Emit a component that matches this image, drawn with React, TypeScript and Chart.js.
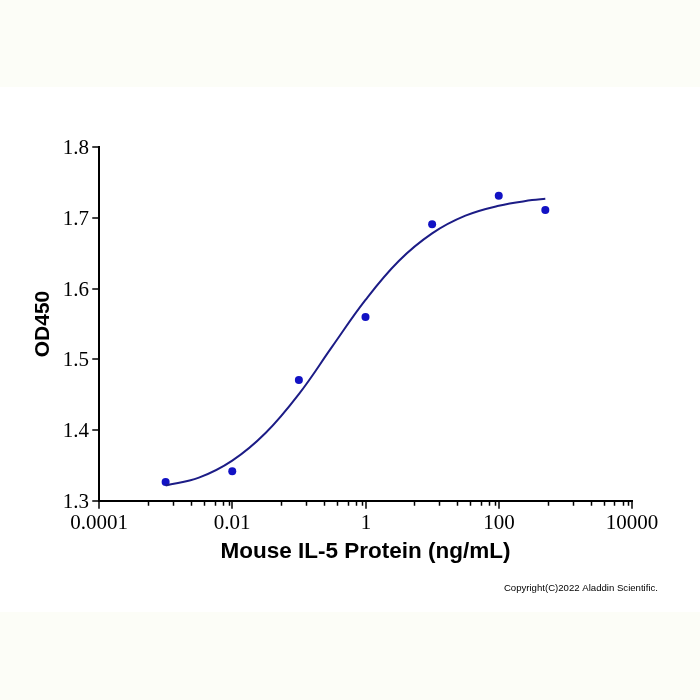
import React, { useEffect, useRef } from "react";
import { Chart, registerables } from "chart.js";

Chart.register(...registerables);

// Measured OD450 readings for each concentration (ng/mL)
const conc = [0.001, 0.01, 0.1, 1, 10, 100, 500];
const od450 = [1.327, 1.342, 1.471, 1.56, 1.691, 1.731, 1.711];

// Fitted curve, sampled every half decade
const fitConc = [0.001, 0.00316, 0.01, 0.0316, 0.1, 0.316, 1, 3.16, 10, 31.6, 100, 316, 500];
const fitOd = [1.322, 1.333, 1.357, 1.396, 1.451, 1.518, 1.584, 1.639, 1.678, 1.703, 1.717, 1.725, 1.727];

// Axis ticks
const yTicks = [1.3, 1.4, 1.5, 1.6, 1.7, 1.8];
const xMajor = [0.0001, 0.01, 1, 100, 10000];
const xMajorLabels = ["0.0001", "0.01", "1", "100", "10000"];
const xMinorFactors = [5.4, 12.8, 24, 37.6, 54.6, 72.4, 88.4];

const xTitle = "Mouse IL-5 Protein (ng/mL)";
const yTitle = "OD450";
const copyright = "Copyright(C)2022 Aladdin Scientific.";

const axesPlugin = {
  id: "plotAxes",
  afterDraw(chart: any) {
    const { ctx, chartArea } = chart;
    const xs = chart.scales.x;
    const ys = chart.scales.y;
    const left = chartArea.left;
    const right = chartArea.right;
    const top = chartArea.top;
    const bottom = chartArea.bottom;
    ctx.save();
    ctx.strokeStyle = "#000";
    ctx.fillStyle = "#000";
    ctx.lineWidth = 2;
    ctx.lineCap = "square";

    // axis lines
    ctx.beginPath();
    ctx.moveTo(left, top);
    ctx.lineTo(left, bottom);
    ctx.lineTo(right, bottom);
    ctx.stroke();

    // y ticks and labels
    ctx.font = "21px 'Liberation Serif', 'Times New Roman', serif";
    ctx.textAlign = "right";
    ctx.textBaseline = "middle";
    ctx.lineWidth = 1.5;
    yTicks.forEach((v) => {
      const py = Math.round(ys.getPixelForValue(v));
      ctx.beginPath();
      ctx.moveTo(left - 6, py);
      ctx.lineTo(left, py);
      ctx.stroke();
      ctx.fillText(v.toFixed(1), left - 10, py + 1);
    });

    // x minor ticks
    xMajor.slice(0, -1).forEach((m) => {
      xMinorFactors.forEach((f) => {
        const px = Math.round(xs.getPixelForValue(m * f)) + 0.5;
        ctx.beginPath();
        ctx.moveTo(px, bottom);
        ctx.lineTo(px, bottom + 4);
        ctx.stroke();
      });
    });

    // x major ticks and labels
    ctx.textAlign = "center";
    ctx.textBaseline = "middle";
    xMajor.forEach((v, i) => {
      const px = Math.round(xs.getPixelForValue(v));
      ctx.beginPath();
      ctx.moveTo(px, bottom);
      ctx.lineTo(px, bottom + 7);
      ctx.stroke();
      ctx.fillText(xMajorLabels[i], px, bottom + 22);
    });

    // titles
    ctx.font = "bold 22.5px 'Liberation Sans', Arial, sans-serif";
    ctx.fillText(xTitle, (left + right) / 2, bottom + 51);
    ctx.font = "bold 21px 'Liberation Sans', Arial, sans-serif";
    ctx.save();
    ctx.translate(43, (top + bottom) / 2);
    ctx.rotate(-Math.PI / 2);
    ctx.fillText(yTitle, 0, 0);
    ctx.restore();

    // footer
    ctx.font = "9.6px 'Liberation Sans', Arial, sans-serif";
    ctx.textAlign = "right";
    ctx.fillText(copyright, 658, 588);
    ctx.restore();
  },
};

export default function App() {
  const canvasRef = useRef<HTMLCanvasElement | null>(null);

  useEffect(() => {
    if (!canvasRef.current) return;
    const chart = new Chart(canvasRef.current, {
      type: "scatter",
      data: {
        datasets: [
          {
            label: "fit",
            data: fitConc.map((x, i) => ({ x, y: fitOd[i] })),
            showLine: true,
            borderColor: "#1c1c86",
            borderWidth: 2,
            pointRadius: 0,
            tension: 0.4,
            fill: false,
          },
          {
            label: "OD450",
            data: conc.map((x, i) => ({ x, y: od450[i] })),
            showLine: false,
            pointRadius: 4,
            pointBackgroundColor: "#1212c4",
            pointBorderColor: "#1212c4",
            pointBorderWidth: 0,
          },
        ],
      },
      options: {
        responsive: false,
        animation: false,
        layout: { padding: { left: 99, right: 68, top: 147, bottom: 199 } },
        plugins: { legend: { display: false }, tooltip: { enabled: false } },
        scales: {
          x: { type: "logarithmic", min: 0.0001, max: 10000, display: false },
          y: { type: "linear", min: 1.3, max: 1.8, display: false },
        },
      },
      plugins: [axesPlugin],
    });
    return () => chart.destroy();
  }, []);

  const band = "#fcfdf7";
  return (
    <div style={{ position: "fixed", left: 0, top: 0, width: 700, height: 700, background: "#fff", overflow: "hidden" }}>
      <div style={{ position: "absolute", left: 0, top: 0, width: 700, height: 87, background: band }} />
      <div style={{ position: "absolute", left: 0, top: 612, width: 700, height: 88, background: band }} />
      <canvas ref={canvasRef} width={700} height={700} style={{ position: "absolute", left: 0, top: 0 }} />
    </div>
  );
}
